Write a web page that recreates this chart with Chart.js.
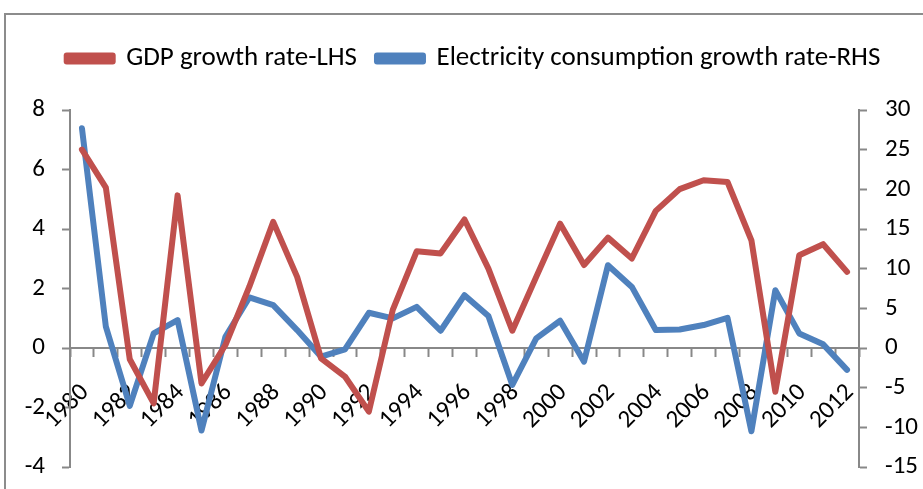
<!DOCTYPE html>
<html>
<head>
<meta charset="utf-8">
<script src="https://cdn.jsdelivr.net/npm/chart.js@4/dist/chart.umd.min.js"></script>
<style>
  html, body { margin: 0; padding: 0; background: #fff; }
  #wrap { width: 923px; height: 489px; }
</style>
</head>
<body>
<div id="wrap"><canvas id="chart" width="923" height="489"></canvas></div>
<script>
// years on the category axis
const years = [
  '1980', '1981', '1982', '1983', '1984', '1985', '1986', '1987', '1988', '1989',
  '1990', '1991', '1992', '1993', '1994', '1995', '1996', '1997', '1998', '1999',
  '2000', '2001', '2002', '2003', '2004', '2005', '2006', '2007', '2008', '2009',
  '2010', '2011', '2012'
]

// GDP growth rate, left axis
const gdpGrowth = [
  6.67, 5.39, -0.38, -1.86, 5.13, -1.19, 0.1, 2.06, 4.24, 2.39,
  -0.35, -0.96, -2.14, 1.28, 3.25, 3.18, 4.32, 2.67, 0.58, 2.39,
  4.18, 2.79, 3.71, 3.01, 4.61, 5.34, 5.64, 5.58, 3.62, -1.47,
  3.12, 3.49, 2.56
]

// electricity consumption growth rate, right axis
const elecGrowth = [
  27.7, 2.68, -7.29, 1.84, 3.52, -10.4, 1.42, 6.37, 5.40, 2.26,
  -1.09, -0.17, 4.44, 3.73, 5.19, 2.18, 6.66, 4.02, -4.65, 1.21,
  3.43, -1.72, 10.43, 7.70, 2.26, 2.34, 2.89, 3.81, -10.5, 7.29,
  1.84, 0.46, -2.76
]

const leftTicks = { min: -4, max: 8, step: 2 }
const rightTicks = { min: -15, max: 30, step: 5 }

const axisGrey = '#888888'
const fontFam = "Carlito, Lato, 'Open Sans', sans-serif"

// grey frame round the chart (only top and left show in the window)
const frame = {
  id: 'frame',
  beforeDraw(chart) {
    const ctx = chart.ctx
    ctx.save()
    ctx.strokeStyle = '#8c8c8c'
    ctx.lineWidth = 2
    ctx.strokeRect(5, 14, 1000, 1000)
    ctx.restore()
  }
}

// push the plot down below the legend, and nudge the legend right a bit
const legendGap = {
  id: 'legendGap',
  beforeInit(chart) {
    const fit = chart.legend.fit
    chart.legend.fit = function () {
      fit.bind(chart.legend)()
      this.height += 28
    }
  },
  afterLayout(chart) {
    chart.legend.left += 12
    chart.legend.right += 12
  }
}

// labels may hang outside the plot, don't let them shrink it
const noLabelPad = (s) => {
  s.paddingTop = 0
  s.paddingBottom = 0
}

new Chart(document.getElementById('chart'), {
  type: 'line',
  data: {
    labels: years,
    datasets: [
      {
        label: 'GDP growth rate-LHS',
        data: gdpGrowth,
        yAxisID: 'y',
        borderColor: '#C0504D',
        backgroundColor: '#C0504D',
        borderWidth: 6,
        pointRadius: 0,
        tension: 0,
        borderJoinStyle: 'round',
        borderCapStyle: 'round'
      },
      {
        label: 'Electricity consumption growth rate-RHS',
        data: elecGrowth,
        yAxisID: 'y1',
        borderColor: '#4F81BD',
        backgroundColor: '#4F81BD',
        borderWidth: 6,
        pointRadius: 0,
        tension: 0,
        borderJoinStyle: 'round',
        borderCapStyle: 'round'
      }
    ]
  },
  options: {
    responsive: false,
    animation: false,
    layout: { padding: { top: 25, left: 0, right: 0, bottom: 22 } },
    plugins: {
      tooltip: { enabled: false },
      legend: {
        position: 'top',
        labels: {
          boxWidth: 46,
          boxHeight: 6,
          padding: 20,
          color: '#000',
          font: { family: fontFam, size: 27 }
        }
      }
    },
    scales: {
      x: {
        type: 'category',
        offset: true,
        position: { y: 0 },
        afterFit: noLabelPad,
        grid: {
          offset: true,
          drawOnChartArea: false,
          tickLength: 8,
          tickWidth: 2,
          tickColor: axisGrey
        },
        border: { color: axisGrey, width: 2 },
        ticks: {
          autoSkip: false,
          maxRotation: 45,
          minRotation: 45,
          padding: 22,
          labelOffset: 3,
          color: '#000',
          font: { family: fontFam, size: 25 },
          callback: (v, i) => (i % 2 === 0 ? years[i] : '')
        }
      },
      y: {
        position: 'left',
        min: leftTicks.min,
        max: leftTicks.max,
        afterFit: (s) => { s.width = 70; noLabelPad(s) },
        grid: {
          drawOnChartArea: false,
          tickLength: 8,
          tickWidth: 2,
          tickColor: axisGrey
        },
        border: { color: axisGrey, width: 2 },
        ticks: {
          stepSize: leftTicks.step,
          padding: 17,
          color: '#000',
          font: { family: fontFam, size: 25 }
        }
      },
      y1: {
        position: 'right',
        min: rightTicks.min,
        max: rightTicks.max,
        afterFit: (s) => { s.width = 64; noLabelPad(s) },
        grid: {
          drawOnChartArea: false,
          tickLength: 8,
          tickWidth: 2,
          tickColor: axisGrey
        },
        border: { color: axisGrey, width: 2 },
        ticks: {
          stepSize: rightTicks.step,
          padding: 18,
          color: '#000',
          font: { family: fontFam, size: 25 }
        }
      }
    }
  },
  plugins: [frame, legendGap]
})
</script>
</body>
</html>
